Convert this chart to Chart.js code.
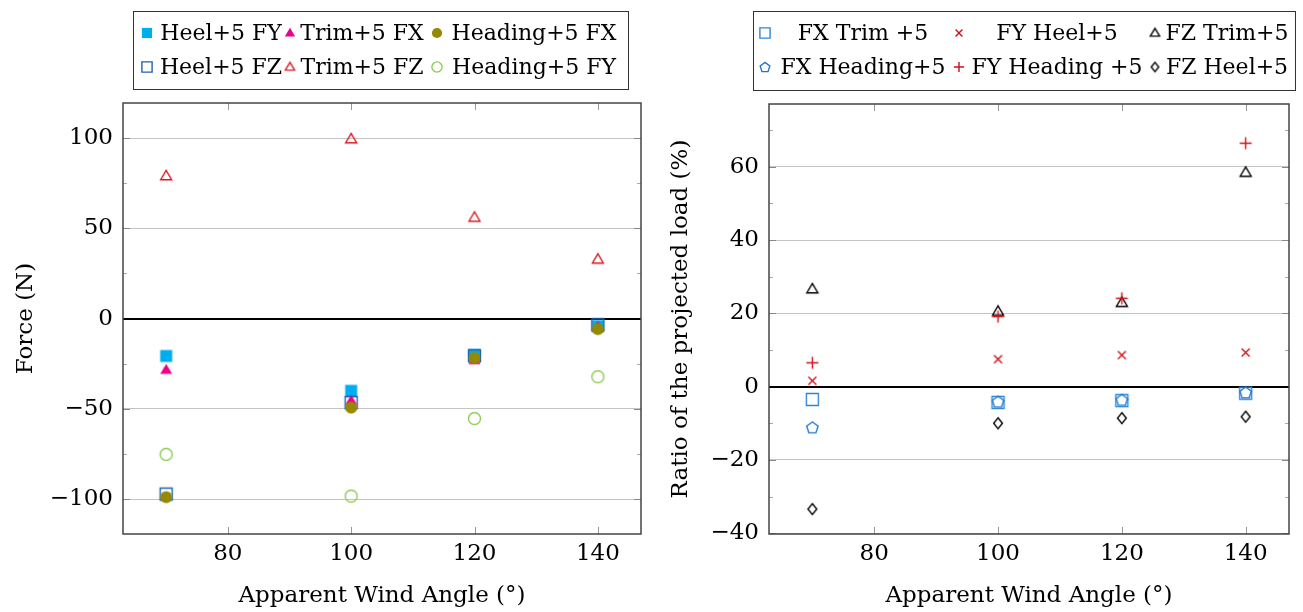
<!DOCTYPE html>
<html>
<head>
<meta charset="utf-8">
<script src="https://cdn.jsdelivr.net/npm/chart.js@4.4.1/dist/chart.umd.min.js"></script>
<style>
  body { margin: 0; background: #fff; width: 1303px; height: 612px; position: relative; overflow: hidden; font-family: "DejaVu Serif", serif; color: #000; }
  canvas.plot { position: absolute; top: 0; }
  .legend-box { position: absolute; border: 1px solid #333; box-sizing: border-box; }
  .legend-text { position: absolute; transform: translate(-50%, -50%); white-space: nowrap; font-size: 22px; line-height: 1; }
  .legend-mark { position: absolute; transform: translate(-50%, -50%); }
</style>
</head>
<body>
<canvas id="left" class="plot" width="650" height="612" style="left:0"></canvas>
<canvas id="right" class="plot" width="653" height="612" style="left:650px"></canvas>
<div class="legend-box" style="left:133px;top:11px;width:496px;height:79px"></div>
<div class="legend-box" style="left:753px;top:11px;width:543px;height:80px"></div>
<script>
// apparent wind angles (deg)
const angles = [70, 100, 120, 140];

// left plot: force (N)
const heelFY = [-20.7, -40, -20.2, -4.2];
const trimFX = [-28.4, -45.5, -23, -4.6];
const headingFX = [-98.9, -49.3, -21.8, -5.8];
const heelFZ = [-97.2, -46.5, -20.6, -3.4];
const trimFZ = [79, 99.4, 56, 32.8];
const headingFY = [-75.2, -98.3, -55.4, -32.2];

// right plot: ratio of the projected load (%)
const fxTrim = [-3.5, -4.3, -3.8, -1.8];
const fyHeel = [1.6, 7.5, 8.6, 9.3];
const fzTrim = [26.6, 20.5, 22.9, 58.4];
const fxHeading = [-11.1, -4.1, -3.6, -1.6];
const fyHeading = [6.5, 19.1, 24.1, 66.4];
const fzHeel = [-33.4, -10, -8.6, -8.2];

Chart.defaults.font.family = '"DejaVu Serif", serif';
Chart.defaults.font.size = 23;
Chart.defaults.color = '#000';

// pgfplots-like marks as small canvases
function makeMarker(shape, color, size, filled) {
  const dim = Math.ceil(size) + 5;
  const c = document.createElement('canvas');
  c.width = dim;
  c.height = dim;
  const g = c.getContext('2d');
  const m = dim / 2, r = size / 2;
  g.strokeStyle = color;
  g.fillStyle = color;
  g.lineWidth = 1.4;
  g.beginPath();
  if (shape === 'square') {
    g.rect(m - r, m - r, size, size);
  } else if (shape === 'circle') {
    g.arc(m, m, r, 0, Math.PI * 2);
  } else if (shape === 'triangle') {
    const h = size * 0.84;
    g.moveTo(m, m - h * 0.6);
    g.lineTo(m + r, m + h * 0.4);
    g.lineTo(m - r, m + h * 0.4);
    g.closePath();
  } else if (shape === 'pentagon') {
    for (let i = 0; i < 5; i++) {
      const a = -Math.PI / 2 + i * 2 * Math.PI / 5;
      g.lineTo(m + r * Math.cos(a), m + 0.5 + r * Math.sin(a));
    }
    g.closePath();
  } else if (shape === 'diamond') {
    g.moveTo(m, m - r);
    g.lineTo(m + r * 0.8, m);
    g.lineTo(m, m + r);
    g.lineTo(m - r * 0.8, m);
    g.closePath();
  } else if (shape === 'cross') {
    g.moveTo(m - r, m - r); g.lineTo(m + r, m + r);
    g.moveTo(m + r, m - r); g.lineTo(m - r, m + r);
  } else if (shape === 'plus') {
    g.moveTo(m - r, m); g.lineTo(m + r, m);
    g.moveTo(m, m - r); g.lineTo(m, m + r);
  }
  if (filled) g.fill(); else g.stroke();
  return c;
}

const leftSeries = [
  { label: 'Heel+5 FY', values: heelFY, shape: 'square', color: '#00aeef', size: 12, filled: true, order: 6 },
  { label: 'Trim+5 FX', values: trimFX, shape: 'triangle', color: '#ec008c', size: 12, filled: true, order: 4 },
  { label: 'Heading+5 FX', values: headingFX, shape: 'circle', color: '#948900', size: 12, filled: true, order: 1 },
  { label: 'Heel+5 FZ', values: heelFZ, shape: 'square', color: '#1f62ad', size: 12, filled: false, order: 5 },
  { label: 'Trim+5 FZ', values: trimFZ, shape: 'triangle', color: '#d91a20', size: 11, filled: false, order: 3 },
  { label: 'Heading+5 FY', values: headingFY, shape: 'circle', color: '#8ccc55', size: 12, filled: false, order: 2 }
];

const rightSeries = [
  { label: 'FX Trim +5', values: fxTrim, shape: 'square', color: '#2e86d6', size: 12, filled: false, order: 6 },
  { label: 'FY Heel+5', values: fyHeel, shape: 'cross', color: '#d0101a', size: 8, filled: false, order: 5 },
  { label: 'FZ Trim+5', values: fzTrim, shape: 'triangle', color: '#000', size: 11, filled: false, order: 4 },
  { label: 'FX Heading+5', values: fxHeading, shape: 'pentagon', color: '#1f78cc', size: 12, filled: false, order: 3 },
  { label: 'FY Heading +5', values: fyHeading, shape: 'plus', color: '#d0101a', size: 12, filled: false, order: 2 },
  { label: 'FZ Heel+5', values: fzHeel, shape: 'diamond', color: '#000', size: 11, filled: false, order: 1 }
];

// box, inside tick marks and minor ticks like pgfplots
const axisBox = {
  id: 'axisBox',
  beforeDatasetsDraw(chart) {
    const { ctx, chartArea: a, scales: { x, y } } = chart;
    const step = y.options.ticks.stepSize;
    ctx.save();
    ctx.lineWidth = 1;
    const line = (x1, y1, x2, y2) => { ctx.beginPath(); ctx.moveTo(x1, y1); ctx.lineTo(x2, y2); ctx.stroke(); };
    ctx.strokeStyle = '#999';
    x.ticks.forEach(t => {
      const px = Math.round(x.getPixelForValue(t.value)) + 0.5;
      line(px, a.bottom, px, a.bottom - 7);
      line(px, a.top, px, a.top + 7);
    });
    ctx.strokeStyle = '#888';
    y.ticks.forEach(t => {
      if (t.value === 0) return;
      const py = Math.round(y.getPixelForValue(t.value)) + 0.5;
      line(a.left, py, a.left + 7, py);
      line(a.right, py, a.right - 7, py);
    });
    ctx.strokeStyle = '#aaa';
    const first = y.ticks[0].value;
    for (let v = first - step / 2; v < y.max; v += step) {
      if (v <= y.min) continue;
      const py = Math.round(y.getPixelForValue(v)) + 0.5;
      line(a.left, py, a.left + 4, py);
      line(a.right, py, a.right - 4, py);
    }
    ctx.strokeStyle = '#444';
    ctx.lineWidth = 1.5;
    ctx.strokeRect(a.left, a.top, a.width, a.height);
    ctx.restore();
  }
};

const minus = v => (v < 0 ? '\u2212' + Math.abs(v) : String(v));

function makeChart(id, series, cfg) {
  series.forEach(s => { s.img = makeMarker(s.shape, s.color, s.size, s.filled); });
  return new Chart(document.getElementById(id), {
    type: 'scatter',
    data: {
      datasets: series.map(s => ({
        label: s.label,
        data: angles.map((a, j) => ({ x: a, y: s.values[j] })),
        pointStyle: s.img,
        pointRadius: 6,
        order: s.order
      }))
    },
    options: {
      responsive: false,
      animation: false,
      layout: { padding: { top: cfg.top, right: cfg.right, left: 0, bottom: 0 } },
      plugins: { legend: { display: false }, tooltip: { enabled: false } },
      scales: {
        x: {
          type: 'linear', min: 63, max: 147,
          ticks: { stepSize: 20, includeBounds: false, padding: 6, maxRotation: 0, callback: minus },
          grid: { display: false, drawTicks: false },
          border: { display: false },
          title: { display: true, text: 'Apparent Wind Angle (°)', padding: { top: 0, bottom: 2 } },
          afterFit: s => { s.height = 78; }
        },
        y: {
          min: cfg.ymin, max: cfg.ymax,
          ticks: { stepSize: cfg.step, includeBounds: false, padding: 10, callback: minus },
          grid: {
            drawTicks: false,
            color: c => (c.tick && c.tick.value === 0 ? '#000' : '#c4c4c4'),
            lineWidth: c => (c.tick && c.tick.value === 0 ? 2 : 1)
          },
          border: { display: false },
          title: { display: true, text: cfg.ytitle, padding: { top: cfg.titlePad, bottom: 0 } },
          afterFit: s => { s.width = cfg.yWidth; }
        }
      }
    },
    plugins: [axisBox]
  });
}

makeChart('left', leftSeries, {
  top: 103, right: 9, yWidth: 123, ymin: -119.3, ymax: 119.4, step: 50,
  ytitle: 'Force (N)', titlePad: 12
});
makeChart('right', rightSeries, {
  top: 104, right: 14, yWidth: 119, ymin: -40.2, ymax: 77.1, step: 20,
  ytitle: 'Ratio of the projected load (%)', titlePad: 17
});

// legends (pgfplots style, 3 columns)
const legendRows = [33, 67];
const leftCols = { mark: [147, 290, 437], text: [221, 362, 534] };
const rightCols = { mark: [765, 959, 1155], text: [863, 1057, 1227] };

function buildLegend(series, cols) {
  series.forEach((s, i) => {
    const row = Math.floor(i / 3), col = i % 3;
    const mk = makeMarker(s.shape, s.color, s.size * 0.85, s.filled);
    mk.className = 'legend-mark';
    mk.style.left = cols.mark[col] + 'px';
    mk.style.top = legendRows[row] + 'px';
    document.body.appendChild(mk);
    const t = document.createElement('span');
    t.className = 'legend-text';
    t.textContent = s.label;
    t.style.left = cols.text[col] + 'px';
    t.style.top = legendRows[row] + 'px';
    document.body.appendChild(t);
  });
}
buildLegend(leftSeries, leftCols);
buildLegend(rightSeries, rightCols);
</script>
</body>
</html>
